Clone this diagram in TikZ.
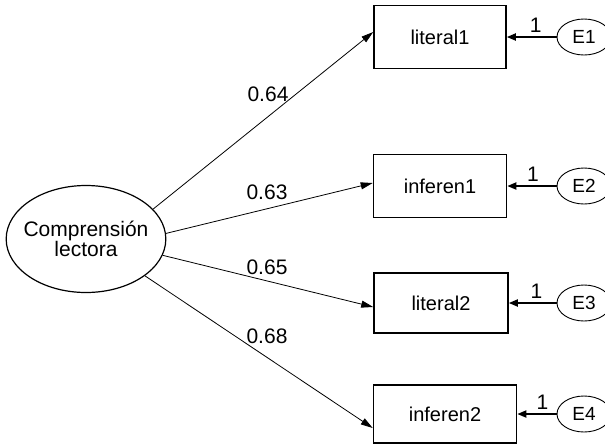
\documentclass[tikz,border=0pt]{standalone}
\usepackage{fontspec}
\setmainfont{Liberation Sans}
\usetikzlibrary{shapes.geometric,arrows.meta}

\begin{document}
\begin{tikzpicture}[x=1pt, y=-1pt,
    obs/.style={draw, line width=1.6pt, minimum height=63pt, inner sep=0pt, font=\fontsize{20}{22}\selectfont},
    err/.style={draw, ellipse, line width=0.9pt, minimum width=54pt, minimum height=36pt, inner sep=0pt, font=\fontsize{19}{20}\selectfont},
    load/.style={-{Triangle[length=12pt, width=7pt]}, line width=0.8pt},
    fix/.style={-{Triangle[length=9pt, width=7pt]}, line width=1.8pt},
    coef/.style={font=\fontsize{21}{22}\selectfont}]
  \useasboundingbox (0,0) rectangle (605,445);
  % latent factor
  \node[draw, ellipse, line width=1.2pt, minimum width=158pt, minimum height=107pt, inner xsep=-6pt, inner ysep=0pt,
        align=center, font=\fontsize{21}{20.5}\selectfont] (lat) at (86,239) {Comprensión\\lectora};
  % indicators
  \node[obs, minimum width=132pt] (lit1) at (440,37) {literal1};
  \node[obs, minimum width=133pt] (inf1) at (440,186) {inferen1};
  \node[obs, minimum width=134pt, minimum height=60pt] (lit2) at (441,303) {literal2};
  \node[obs, minimum width=143pt, minimum height=58pt] (inf2) at (445,414) {inferen2};
  % errors
  \node[err] (e1) at (584,37) {E1};
  \node[err] (e2) at (584,186) {E2};
  \node[err] (e3) at (584,303) {E3};
  \node[err] (e4) at (584,414) {E4};
  % loadings
  \draw[load] (lat.24) -- ([yshift=5pt]lit1.west);
  \draw[load] (lat.4) -- ([yshift=3pt]inf1.west);
  \draw[load] (lat.-12) -- ([yshift=-4pt]lit2.west);
  \draw[load] (lat.-32) -- ([yshift=-14pt]inf2.west);
  \node[coef] (c1) at (268,94) {0.64};
  \node[coef] (c2) at (267,192) {0.63};
  \node[coef] (c3) at (267,267) {0.65};
  \node[coef] (c4) at (267,336) {0.68};
  % error paths
  \draw[fix] (e1.west) -- node[coef, above, pos=0.42] {1} (lit1.east);
  \draw[fix] (e2.west) -- node[coef, above, pos=0.48] {1} (inf1.east);
  \draw[fix] (e3.west) -- node[coef, above, pos=0.42] {1} (lit2.east);
  \draw[fix] (e4.west) -- node[coef, above, pos=0.36] {1} (inf2.east);
\end{tikzpicture}
\end{document}
